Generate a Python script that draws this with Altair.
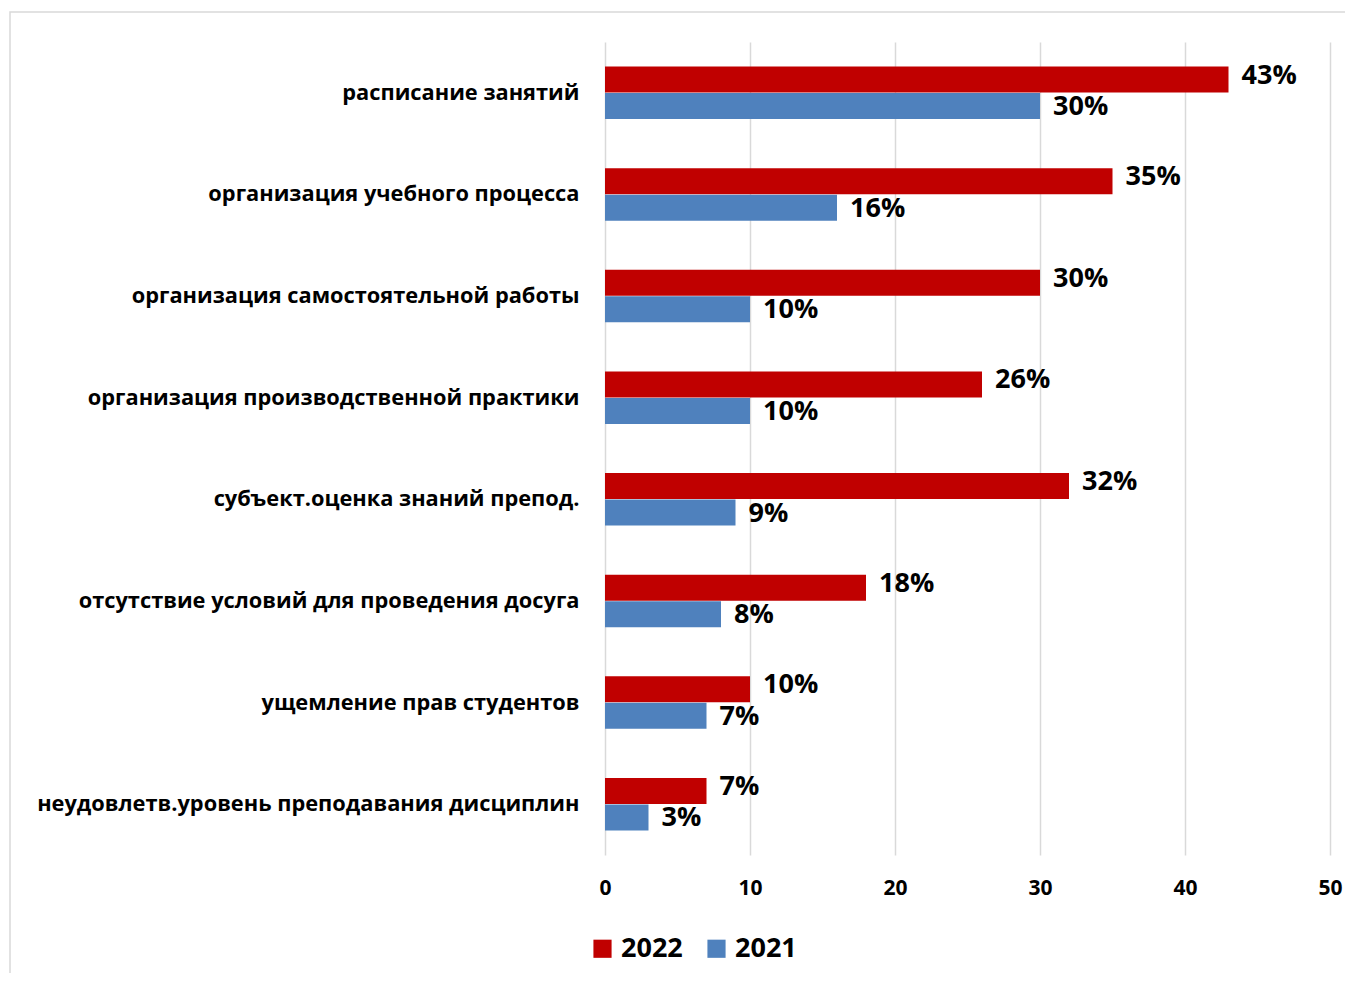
import altair as alt
import pandas as pd

categories = [
    "расписание занятий",
    "организация учебного процесса",
    "организация самостоятельной работы",
    "организация производственной практики",
    "субъект.оценка знаний препод.",
    "отсутствие условий для проведения досуга",
    "ущемление прав студентов",
    "неудовлетв.уровень преподавания дисциплин",
]
values_2022 = [43, 35, 30, 26, 32, 18, 10, 7]
values_2021 = [30, 16, 10, 10, 9, 8, 7, 3]
years = ["2022", "2021"]
colors = ["#C00000", "#4F81BD"]

rows = []
for c, v22, v21 in zip(categories, values_2022, values_2021):
    rows.append({"cat": c, "year": "2022", "value": v22, "label": f"{v22}%"})
    rows.append({"cat": c, "year": "2021", "value": v21, "label": f"{v21}%"})
df = pd.DataFrame(rows)

FONT = "Open Sans"

y_enc = alt.Y("cat:N", sort=categories, title=None,
              scale=alt.Scale(paddingInner=0.48, paddingOuter=0.24),
              axis=alt.Axis(domain=False, ticks=False, labelPadding=26,
                            labelFontSize=21.8, labelFont=FONT, labelFontWeight="bold",
                            labelColor="#000000", labelLimit=600))
yoff = alt.YOffset("year:N", sort=years)
x_enc = alt.X("value:Q", title=None,
              scale=alt.Scale(domain=[0, 50], nice=False),
              axis=alt.Axis(values=[0, 10, 20, 30, 40, 50], domain=False, ticks=False,
                            labelFlush=False,
                            labelPadding=22, labelFontSize=21, labelFont=FONT,
                            labelFontWeight="bold", labelColor="#000000",
                            grid=True, gridColor="#D9D9D9", gridWidth=1.5))

base = alt.Chart(df)

bars = base.mark_bar(size=26).encode(
    x=x_enc,
    y=y_enc,
    yOffset=yoff,
    color=alt.Color("year:N", sort=years,
                    scale=alt.Scale(domain=years, range=colors),
                    legend=alt.Legend(title=None, orient="none", direction="horizontal",
                                      legendX=-16, legendY=893,
                                      symbolType="square", symbolSize=330,
                                      symbolStrokeWidth=0,
                                      labelFontSize=27, labelFont=FONT,
                                      labelFontWeight="bold", labelColor="#000000",
                                      columnPadding=20, labelOffset=5)),
)

def text_layer(year, dy):
    return base.transform_filter(alt.datum.year == year).mark_text(
        align="left", baseline="middle", dx=13, dy=dy, fontSize=27,
        font=FONT, fontWeight="bold", color="#000000").encode(
        x="value:Q",
        y=alt.Y("cat:N", sort=categories),
        yOffset=yoff,
        text="label:N",
    )

border = alt.Chart(pd.DataFrame({"k": [0]})).mark_rect(
    fill=None, stroke="#D9D9D9", strokeWidth=1.5
).encode(
    x=alt.value(-595), x2=alt.value(760),
    y=alt.value(-30), y2=alt.value(960),
)

chart = alt.layer(border, bars, text_layer("2022", -4), text_layer("2021", 1)).properties(
    width=725, height=813,
    autosize=alt.AutoSizeParams(type="none"),
    padding={"left": 597, "top": 34, "right": 15, "bottom": 118},
).configure_view(stroke=None)

chart.save("out.html", embed_options={"renderer": "svg", "actions": False})
